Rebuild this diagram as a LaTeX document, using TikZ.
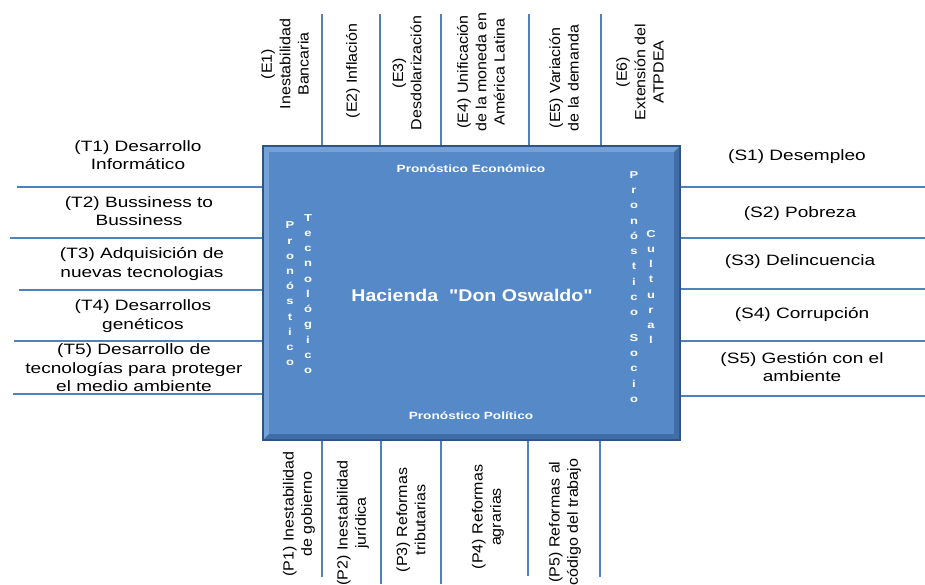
\documentclass[tikz,border=0pt]{standalone}
\usepackage{fontspec}
\setmainfont{Liberation Sans}[Ligatures=TeXOff]
\usetikzlibrary{calc}

\definecolor{lineblue}{HTML}{4F81BD}
\definecolor{boxfill}{HTML}{5589C7}
\definecolor{boxedge}{HTML}{2E5283}
\definecolor{bevellight}{HTML}{74A1D8}
\definecolor{beveldark}{HTML}{416DA6}

\tikzset{
  sep/.style={draw=lineblue, line width=2pt},
  hlabel/.style={font=\fontsize{15}{18.5}\selectfont, align=center, inner sep=0pt, xscale=1.27},
  vlabel/.style={font=\fontsize{14}{17.5}\selectfont, align=center, inner sep=0pt, xscale=1.05, yscale=1.145, rotate=90},
  boxcaption/.style={font=\bfseries\fontsize{10.5}{12}\selectfont, text=white, inner sep=0pt, xscale=1.3},
  stack/.style={font=\bfseries\fontsize{10}{15.2}\selectfont, text=white, align=center, inner sep=0pt, xscale=1.3},
  maintitle/.style={font=\bfseries\fontsize{17}{20}\selectfont, text=white, inner sep=0pt, xscale=1.15},
  centralbox/.style={minimum width=419pt, minimum height=296pt, inner sep=0pt, outer sep=0pt}
}

\begin{document}
\begin{tikzpicture}[x=1pt, y=-1pt]
\useasboundingbox (0,0) rectangle (925,584);

% central block with bevelled frame
\node[centralbox] (box) at (471.5,293) {};
\fill[boxedge] (box.north west) rectangle (box.south east);
\fill[bevellight] ($(box.north west)+(2,2)$) rectangle ($(box.south east)+(-2,-2)$);
\fill[beveldark] ($(box.north east)+(-2,2)$) -- ($(box.south east)+(-2,-2)$)
  -- ($(box.south west)+(2,-2)$) -- ($(box.south west)+(7,-7)$)
  -- ($(box.north east)+(-7,7)$) -- cycle;
\fill[boxfill] ($(box.north west)+(7,7)$) rectangle ($(box.south east)+(-7,-7)$);

% captions inside the block
\node[boxcaption] (econ) at (471,169) {Pronóstico Económico};
\node[boxcaption] (polit) at (471,416) {Pronóstico Político};
\node[maintitle] (title) at (472,295) {Hacienda\ \ "Don Oswaldo"};
\node[stack] (tec1) at (290,294) {P\\r\\o\\n\\ó\\s\\t\\i\\c\\o};
\node[stack] (tec2) at (308,294) {T\\e\\c\\n\\o\\l\\ó\\g\\i\\c\\o};
\node[stack] (soc1) at (634,287) {P\\r\\o\\n\\ó\\s\\t\\i\\c\\o\\[10.8pt]S\\o\\c\\i\\o};
\node[stack] (soc2) at (651,287) {C\\u\\l\\t\\u\\r\\a\\l};

% economic factors (top)
\coordinate (et1) at (322,14);
\coordinate (et2) at (380,14);
\coordinate (et3) at (441,14);
\coordinate (et4) at (529,14);
\coordinate (et5) at (601,14);
\foreach \c in {et1,et2,et3,et4,et5} \draw[sep] (\c) -- (\c |- box.north);
\node[vlabel] (e1) at (285,64) {(E1)\\Inestabilidad\\Bancaria};
\node[vlabel] (e2) at (353,71) {(E2) Inflación};
\node[vlabel] (e3) at (407,73) {(E3)\\Desdolarización};
\node[vlabel] (e4) at (481,72) {(E4) Unificación\\de la moneda en\\América Latina};
\node[vlabel] (e5) at (564,78) {(E5) Variación\\de la demanda};
\node[vlabel] (e6) at (640,72) {(E6)\\Extensión del\\ATPDEA};

% political factors (bottom)
\coordinate (pb1) at (322,577);
\coordinate (pb2) at (381,584);
\coordinate (pb3) at (441,584);
\coordinate (pb4) at (528,576);
\coordinate (pb5) at (600,577);
\foreach \c in {pb1,pb2,pb3,pb4,pb5} \draw[sep] (\c |- box.south) -- (\c);
\node[vlabel] (p1) at (299,514) {(P1) Inestabilidad\\de gobierno};
\node[vlabel] (p2) at (353,523) {(P2) Inestabilidad\\jurídica};
\node[vlabel] (p3) at (411,520) {(P3) Reformas\\tributarias};
\node[vlabel] (p4) at (488,517) {(P4) Reformas\\agrarias};
\node[vlabel] (p5) at (565,522) {(P5) Reformas al\\código del trabajo};

% technological factors (left)
\coordinate (tl1) at (17,187);
\coordinate (tl2) at (10,238);
\coordinate (tl3) at (19,290);
\coordinate (tl4) at (14,341);
\coordinate (tl5) at (13,394);
\foreach \c in {tl1,tl2,tl3,tl4,tl5} \draw[sep] (\c) -- (\c -| box.west);
\node[hlabel] (t1) at (138,155) {(T1) Desarrollo\\Informático};
\node[hlabel] (t2) at (139,211) {(T2) Bussiness to\\Bussiness};
\node[hlabel] (t3) at (142,264) {(T3) Adquisición de\\nuevas tecnologias};
\node[hlabel] (t4) at (143,316) {(T4) Desarrollos\\genéticos};
\node[hlabel] (t5) at (134,368) {(T5) Desarrollo de\\tecnologías para proteger\\el medio ambiente};

% socio-cultural factors (right)
\coordinate (sr1) at (925,187);
\coordinate (sr2) at (925,238);
\coordinate (sr3) at (925,289);
\coordinate (sr4) at (925,341);
\coordinate (sr5) at (925,396);
\foreach \c in {sr1,sr2,sr3,sr4,sr5} \draw[sep] (box.east |- \c) -- (\c);
\node[hlabel] (s1) at (797,157) {(S1) Desempleo};
\node[hlabel] (s2) at (800,214) {(S2) Pobreza};
\node[hlabel] (s3) at (800,262) {(S3) Delincuencia};
\node[hlabel] (s4) at (802,315) {(S4) Corrupción};
\node[hlabel] (s5) at (802,367) {(S5) Gestión con el\\ambiente};
\end{tikzpicture}
\end{document}
